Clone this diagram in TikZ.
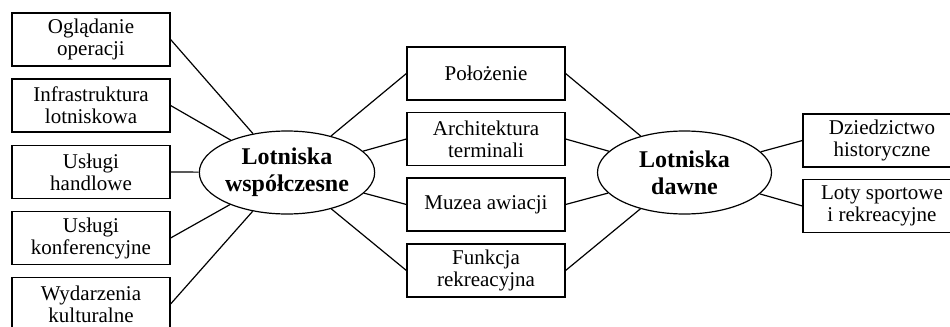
\documentclass[tikz,border=0pt]{standalone}
\usepackage{fontspec}
\setmainfont{Liberation Serif}
\usetikzlibrary{shapes.geometric}

\tikzset{
  box/.style={draw, line width=0.6pt, minimum width=79pt, minimum height=26.5pt,
    inner sep=0pt, align=center, font=\fontsize{10.5}{11}\selectfont},
  hub/.style={draw, ellipse, line width=0.6pt, minimum width=87pt, minimum height=41.5pt,
    inner sep=0pt, align=center, font=\fontsize{12}{13.3}\selectfont\bfseries}
}

\begin{document}
\begin{tikzpicture}[x=0.5pt,y=-0.5pt]
  \useasboundingbox (0,0) rectangle (950,327);
  % hubs
  \node[hub] (lw) at (287,172.5) {Lotniska\\współczesne};
  \node[hub] (ld) at (684.5,172.5) {Lotniska\\dawne};
  % left column
  \node[box] (l1) at (91,39.5) {Oglądanie\\operacji};
  \node[box] (l2) at (91,105.5) {Infrastruktura\\lotniskowa};
  \node[box] (l3) at (91,172) {Usługi\\handlowe};
  \node[box] (l4) at (91,238) {Usługi\\konferencyjne};
  \node[box] (l5) at (91,304) {Wydarzenia\\kulturalne};
  % middle column
  \node[box] (m1) at (486,73.5) {Położenie};
  \node[box] (m2) at (486,139) {Architektura\\terminali};
  \node[box] (m3) at (486,204.5) {Muzea awiacji};
  \node[box] (m4) at (486,270.5) {Funkcja\\rekreacyjna};
  % right column
  \node[box] (r1) at (882,140.5) {Dziedzictwo\\historyczne};
  \node[box] (r2) at (882,206) {Loty sportowe\\i rekreacyjne};
  \path[line width=0.6pt]
  (l1.east) edge (lw)
  (l2.east) edge (lw)
  (l3.east) edge (lw)
  (l4.east) edge (lw)
  (l5.east) edge (lw)
  (lw) edge (m1.west)
  (lw) edge (m2.west)
  (lw) edge (m3.west)
  (lw) edge (m4.west)
  (m1.east) edge (ld)
  (m2.east) edge (ld)
  (m3.east) edge (ld)
  (m4.east) edge (ld)
  (ld) edge (r1.west)
  (ld) edge (r2.west);
\end{tikzpicture}
\end{document}
